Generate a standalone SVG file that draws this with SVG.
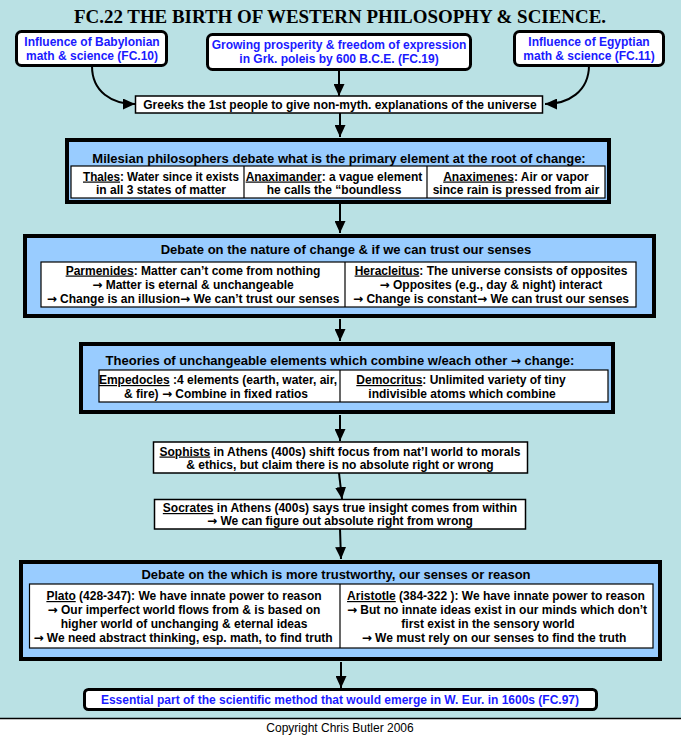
<svg xmlns="http://www.w3.org/2000/svg" width="681" height="736" viewBox="0 0 681 736">
<defs>
<marker id="ah" viewBox="0 0 12 11" refX="12" refY="5.5" markerWidth="12" markerHeight="11" markerUnits="userSpaceOnUse" orient="auto">
<path d="M0,0 L12,5.5 L0,11 Z" fill="#000"/>
</marker>
<style>
.bg{fill:#bae1e4}
.t{font-family:"Liberation Sans",Arial,sans-serif;font-size:12px;font-weight:bold;fill:#000;text-anchor:middle}
.h{font-family:"Liberation Sans",Arial,sans-serif;font-size:13px;font-weight:bold;fill:#000;text-anchor:middle}
.b{font-family:"Liberation Sans",Arial,sans-serif;font-size:12px;font-weight:bold;fill:#1a1aff;text-anchor:middle}
.rb{fill:#fff;stroke:#000;stroke-width:3}
.big{fill:#99ccff;stroke:#000;stroke-width:4}
.cell{fill:#fff;stroke:#000;stroke-width:1.2}
.box{fill:#fff;stroke:#000;stroke-width:1.5}
.div{stroke:#000;stroke-width:1.2}
.c{fill:none;stroke:#000;stroke-width:2;marker-end:url(#ah)}
.u{text-decoration:underline}
.a{font-family:"DejaVu Sans",sans-serif;font-size:12px}
</style>
</defs>
<rect class="bg" x="0" y="0" width="681" height="718"/>
<rect x="0" y="718" width="681" height="18" fill="#fff"/>
<line x1="0" y1="718.5" x2="681" y2="718.5" stroke="#000" stroke-width="1.5"/>

<text x="340" y="23" font-family="'Liberation Serif','Times New Roman',serif" font-size="19" font-weight="bold" text-anchor="middle" textLength="532" lengthAdjust="spacingAndGlyphs">FC.22 THE BIRTH OF WESTERN PHILOSOPHY &amp; SCIENCE.</text>

<g id="connectors">
<path class="c" d="M92,66 C92,92 112,104 135,104"/>
<path class="c" d="M589,65 C589,92 568,104 545,104"/>
<line class="c" x1="339" y1="70" x2="339" y2="96"/>
<line class="c" x1="340" y1="113" x2="340" y2="137"/>
<line class="c" x1="340" y1="204" x2="340" y2="233"/>
<line class="c" x1="340" y1="319" x2="340" y2="341"/>
<line class="c" x1="340" y1="415" x2="340" y2="441"/>
<line class="c" x1="339" y1="473" x2="342" y2="499"/>
<line class="c" x1="340" y1="529" x2="341" y2="559"/>
<line class="c" x1="341" y1="662" x2="341" y2="688"/>
</g>

<g id="babylonian">
<rect class="rb" x="16.5" y="31.5" width="150" height="34" rx="5"/>
<text class="b" x="92" y="46">Influence of Babylonian</text>
<text class="b" x="92" y="60">math &amp; science (FC.10)</text>
</g>

<g id="prosperity">
<rect class="rb" x="207.5" y="34.5" width="263" height="35" rx="5"/>
<text class="b" x="339" y="49">Growing prosperity &amp; freedom of expression</text>
<text class="b" x="339" y="63">in Grk. poleis by 600 B.C.E. (FC.19)</text>
</g>

<g id="egyptian">
<rect class="rb" x="514.5" y="31.5" width="149" height="34" rx="5"/>
<text class="b" x="589" y="46">Influence of Egyptian</text>
<text class="b" x="589" y="60">math &amp; science (FC.11)</text>
</g>

<g id="greeks">
<rect class="box" x="135.5" y="96" width="407" height="17"/>
<text class="t" x="340" y="109">Greeks the 1st people to give non-myth. explanations of the universe</text>
</g>

<g id="milesian">
<rect class="big" x="67" y="140" width="542" height="62"/>
<text class="h" x="339" y="163">Milesian philosophers debate what is the primary element at the root of change:</text>
<rect class="cell" x="71" y="166" width="534" height="32"/>
<line class="div" x1="244" y1="166" x2="244" y2="198"/>
<line class="div" x1="427" y1="166" x2="427" y2="198"/>
<text class="t" x="161" y="180.5" textLength="156" lengthAdjust="spacingAndGlyphs"><tspan class="u">Thales</tspan>: Water since it exists</text>
<text class="t" x="161" y="194">in all 3 states of matter</text>
<text class="t" x="334" y="180.5"><tspan class="u">Anaximander</tspan>: a vague element</text>
<text class="t" x="334" y="194">he calls the “boundless</text>
<text class="t" x="516" y="180.5"><tspan class="u">Anaximenes</tspan>: Air or vapor</text>
<text class="t" x="516" y="194">since rain is pressed from air</text>
</g>

<g id="debate1">
<rect class="big" x="25" y="236" width="629" height="80"/>
<text class="h" x="346" y="253.5">Debate on the nature of change &amp; if we can trust our senses</text>
<rect class="cell" x="41" y="262" width="595" height="45"/>
<line class="div" x1="345" y1="262" x2="345" y2="307"/>
<text class="t" x="193" y="274.5"><tspan class="u">Parmenides</tspan>:  Matter can’t come from nothing</text>
<text class="t" x="193" y="288.5"><tspan class="a">→</tspan> Matter is eternal &amp; unchangeable</text>
<text class="t" x="193" y="302.5"><tspan class="a">→</tspan> Change is an illusion<tspan class="a">→</tspan> We can’t trust our senses</text>
<text class="t" x="491" y="274.5"><tspan class="u">Heracleitus</tspan>: The universe consists of opposites</text>
<text class="t" x="491" y="288.5"><tspan class="a">→</tspan> Opposites (e.g., day &amp; night) interact</text>
<text class="t" x="491" y="302.5"><tspan class="a">→</tspan> Change is constant<tspan class="a">→</tspan> We can trust our senses</text>
</g>

<g id="theories">
<rect class="big" x="81" y="344" width="532" height="68"/>
<text class="h" x="340" y="365">Theories of unchangeable elements which combine w/each other <tspan class="a">→</tspan> change:</text>
<rect class="cell" x="99" y="370" width="509" height="32"/>
<line class="div" x1="340" y1="370" x2="340" y2="402"/>
<text class="t" x="218" y="384"><tspan class="u">Empedocles</tspan> :4 elements (earth, water, air,</text>
<text class="t" x="216" y="397.5">&amp; fire) <tspan class="a">→</tspan> Combine in fixed ratios</text>
<text class="t" x="461" y="384"><tspan class="u">Democritus</tspan>: Unlimited variety of tiny</text>
<text class="t" x="462" y="397.5">indivisible atoms which combine</text>
</g>

<g id="sophists">
<rect class="box" x="153.5" y="442" width="374" height="31"/>
<text class="t" x="340" y="455.5"><tspan class="u">Sophists</tspan> in Athens (400s) shift focus from nat’l world to morals</text>
<text class="t" x="340" y="468.5">&amp; ethics, but claim there is no absolute right or wrong</text>
</g>

<g id="socrates">
<rect class="box" x="154.5" y="499.5" width="371" height="29.5"/>
<text class="t" x="340" y="512"><tspan class="u">Socrates</tspan> in Athens (400s) says true insight comes from within</text>
<text class="t" x="340" y="525"><tspan class="a">→</tspan> We can figure out absolute right from wrong</text>
</g>

<g id="debate2">
<rect class="big" x="21" y="562" width="639" height="97"/>
<text class="h" x="336" y="579">Debate on the which is more trustworthy, our senses or reason</text>
<rect class="cell" x="29.5" y="584" width="623.5" height="64"/>
<line class="div" x1="340" y1="584" x2="340" y2="648"/>
<text class="t" x="184" y="600"><tspan class="u">Plato</tspan> (428-347): We have innate power to reason</text>
<text class="t" x="184" y="614"><tspan class="a">→</tspan> Our imperfect world flows from &amp; is based on</text>
<text class="t" x="184" y="628">higher world of unchanging &amp; eternal ideas</text>
<text class="t" x="183" y="642"><tspan class="a">→</tspan> We need abstract thinking, esp. math, to find truth</text>
<text class="t" x="496" y="600"><tspan class="u">Aristotle</tspan> (384-322 ): We have innate power to reason</text>
<text class="t" x="497" y="614"><tspan class="a">→</tspan> But no innate ideas exist in our minds which don’t</text>
<text class="t" x="488" y="628">first exist in the sensory world</text>
<text class="t" x="494" y="642"><tspan class="a">→</tspan>  We must rely on our senses to find the truth</text>
</g>

<g id="essential">
<rect class="rb" x="84.5" y="689.5" width="512" height="20" rx="4"/>
<text class="b" x="340" y="704">Essential part of the scientific method that would emerge in W. Eur. in 1600s (FC.97)</text>
</g>

<text x="340" y="732" font-family="'Liberation Sans',Arial,sans-serif" font-size="12" text-anchor="middle">Copyright Chris Butler 2006</text>
</svg>
